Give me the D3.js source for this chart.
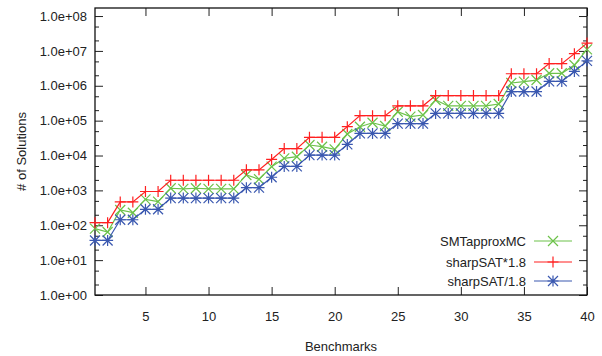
<!DOCTYPE html>
<html>
<head>
<meta charset="utf-8">
<script src="https://cdn.jsdelivr.net/npm/d3@7"></script>
<style>
  body { margin: 0; background: #fff; }
  text { font-family: "Liberation Sans", Arial, Helvetica, sans-serif; }
</style>
</head>
<body>
<script>
var WIDTH = 602, HEIGHT = 356;
var LEFT = 95, RIGHT = 587, TOP = 8, BOTTOM = 295;

var TEXT_COLOR = "#222";
var GREEN = "#6cc24a";
var RED = "#ff2020";
var BLUE = "#3a58b0";

// benchmark index
var benchmarks = d3.range(1, 41);

// sharpSAT exact counts (plotted as *1.8 and /1.8)
var sharpSAT = [66, 66, 259, 259, 517, 517, 1084, 1084, 1084, 1084,
                1084, 1084, 2155, 2155, 4280, 8770, 8770, 18500, 18500, 18500,
                37400, 77400, 77400, 77400, 148000, 148000, 148000, 290000, 290000, 290000,
                290000, 290000, 290000, 1230000, 1230000, 1230000, 2400000, 2400000, 4640000, 9300000];

// SMTapproxMC estimates
var approxMC = [80, 64, 274, 229, 555, 474, 1150, 1100, 1150, 1100,
                1100, 1100, 2770, 2090, 4790, 8300, 9240, 20000, 17900, 15000,
                41400, 67000, 87000, 70000, 180000, 130000, 145000, 390000, 264000, 264000,
                264000, 264000, 300000, 1200000, 1310000, 1460000, 2280000, 2280000, 3940000, 11100000];

var xTicks = [5, 10, 15, 20, 25, 30, 35, 40];
var yTicks = [1, 10, 100, 1e3, 1e4, 1e5, 1e6, 1e7, 1e8];
var yLabels = ["1.0e+00", "1.0e+01", "1.0e+02", "1.0e+03", "1.0e+04", "1.0e+05", "1.0e+06", "1.0e+07", "1.0e+08"];

var series = [
  { name: "SMTapproxMC", color: GREEN, marker: "x", values: approxMC },
  { name: "sharpSAT*1.8", color: RED, marker: "+", values: sharpSAT.map(function(v) { return v * 1.8; }) },
  { name: "sharpSAT/1.8", color: BLUE, marker: "*", values: sharpSAT.map(function(v) { return v / 1.8; }) }
];

var x = d3.scaleLinear().domain([1, 40]).range([LEFT, RIGHT]);
var y = d3.scaleLog().domain([1, 1.7e8]).range([BOTTOM, TOP]);

var svg = d3.select("body").append("svg")
  .attr("width", WIDTH)
  .attr("height", HEIGHT);

function markerPath(type, cx, cy)
{
  var s = 5.5, d = 5;
  var plus = "M" + (cx - s) + "," + cy + "H" + (cx + s) + "M" + cx + "," + (cy - s) + "V" + (cy + s);
  var cross = "M" + (cx - d) + "," + (cy - d) + "L" + (cx + d) + "," + (cy + d) +
              "M" + (cx - d) + "," + (cy + d) + "L" + (cx + d) + "," + (cy - d);
  if (type == "+") return plus;
  if (type == "x") return cross;
  return plus + cross;
}

function drawAxes()
{
  var minor = [];
  for (var e = 0; e < 9; e++)
  {
    [2, 5].forEach(function(m) {
      var v = m * Math.pow(10, e);
      if (v < 1.7e8) minor.push(v);
    });
  }

  // y axis left and mirrored right
  var yLeft = d3.axisLeft(y).tickValues(yTicks).tickSize(-8).tickPadding(8)
    .tickFormat(function(d, i) { return yLabels[i]; });
  svg.append("g").attr("transform", "translate(" + LEFT + ",0)").call(yLeft);
  svg.append("g").attr("transform", "translate(" + LEFT + ",0)")
    .call(d3.axisLeft(y).tickValues(minor).tickSize(-4).tickFormat(""));
  svg.append("g").attr("transform", "translate(" + RIGHT + ",0)")
    .call(d3.axisRight(y).tickValues(yTicks).tickSize(-8).tickFormat(""));
  svg.append("g").attr("transform", "translate(" + RIGHT + ",0)")
    .call(d3.axisRight(y).tickValues(minor).tickSize(-4).tickFormat(""));

  // x axis bottom and mirrored top
  svg.append("g").attr("transform", "translate(0," + BOTTOM + ")")
    .call(d3.axisBottom(x).tickValues(xTicks).tickSize(-8).tickPadding(17).tickFormat(d3.format("d")));
  svg.append("g").attr("transform", "translate(0," + TOP + ")")
    .call(d3.axisTop(x).tickValues(xTicks).tickSize(-8).tickFormat(""));

  svg.selectAll(".domain").remove();
  svg.selectAll(".tick line").attr("stroke", "#222").attr("stroke-width", 1);
  svg.selectAll(".tick text").attr("fill", TEXT_COLOR).style("font-size", "13px");

  svg.append("rect")
    .attr("x", LEFT).attr("y", TOP)
    .attr("width", RIGHT - LEFT).attr("height", BOTTOM - TOP)
    .attr("fill", "none").attr("stroke", "#111").attr("stroke-width", 1.3);

  svg.append("text")
    .attr("x", (LEFT + RIGHT) / 2).attr("y", 351)
    .attr("text-anchor", "middle").attr("fill", TEXT_COLOR)
    .style("font-size", "13px")
    .text("Benchmarks");

  svg.append("text")
    .attr("transform", "translate(26," + ((TOP + BOTTOM) / 2) + ") rotate(-90)")
    .attr("text-anchor", "middle").attr("fill", TEXT_COLOR)
    .style("font-size", "13px")
    .text("# of Solutions");
}

function drawSeries()
{
  var line = d3.line()
    .x(function(d, i) { return x(benchmarks[i]); })
    .y(function(d) { return y(d); });

  series.forEach(function(s) {
    var g = svg.append("g");
    g.append("path")
      .attr("d", line(s.values))
      .attr("fill", "none")
      .attr("stroke", s.color)
      .attr("stroke-width", 1.2);
    g.selectAll("path.pt").data(s.values).enter().append("path")
      .attr("class", "pt")
      .attr("d", function(d, i) { return markerPath(s.marker, x(benchmarks[i]), y(d)); })
      .attr("fill", "none")
      .attr("stroke", s.color)
      .attr("stroke-width", 1.2);
  });
}

function drawLegend()
{
  var rowY = [241, 262, 281];
  series.forEach(function(s, i) {
    svg.append("text")
      .attr("x", 526).attr("y", rowY[i] + 4.5)
      .attr("text-anchor", "end").attr("fill", TEXT_COLOR)
      .style("font-size", "13px")
      .text(s.name);
    svg.append("line")
      .attr("x1", 534).attr("x2", 572)
      .attr("y1", rowY[i]).attr("y2", rowY[i])
      .attr("stroke", s.color).attr("stroke-width", 1.2);
    svg.append("path")
      .attr("d", markerPath(s.marker, 553, rowY[i]))
      .attr("fill", "none").attr("stroke", s.color).attr("stroke-width", 1.2);
  });
}

drawAxes();
drawSeries();
drawLegend();
</script>
</body>
</html>
